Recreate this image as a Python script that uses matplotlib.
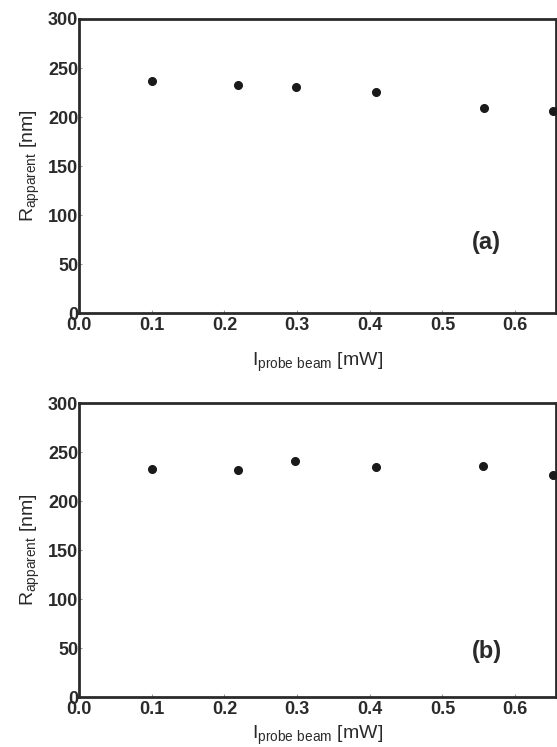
import matplotlib
matplotlib.use("Agg")
import matplotlib.pyplot as plt

plt.rcParams['font.family'] = ['Liberation Sans', 'DejaVu Sans']
plt.rcParams['mathtext.default'] = 'regular'

# Data
x_a = [0.100, 0.219, 0.299, 0.409, 0.557, 0.652]
r_a = [236.5, 232.5, 230.5, 226.0, 209.0, 206.0]
x_b = [0.100, 0.219, 0.297, 0.408, 0.556, 0.652]
r_b = [233.0, 232.0, 241.0, 234.5, 236.0, 226.5]
panel_labels = ['(a)', '(b)']
x_ticks = [0.0, 0.1, 0.2, 0.3, 0.4, 0.5, 0.6]
y_ticks = [0, 50, 100, 150, 200, 250, 300]

fig = plt.figure(figsize=(5.57, 7.47), dpi=100)
ax1 = fig.add_axes([0.1418, 0.5806, 0.8562, 0.3940])
ax2 = fig.add_axes([0.1418, 0.0669, 0.8562, 0.3936])

for ax, xs, ys, lab, ly in [(ax1, x_a, r_a, panel_labels[0], 0.24),
                            (ax2, x_b, r_b, panel_labels[1], 0.155)]:
    ax.plot(xs, ys, 'o', color='#1a1a1a', markersize=5.5, clip_on=False, zorder=5)
    ax.set_xlim(0, 0.656)
    ax.set_ylim(0, 300)
    ax.set_xticks(x_ticks)
    ax.set_yticks(y_ticks)
    ax.set_xticklabels(['%.1f' % v for v in x_ticks])
    ax.set_yticklabels([str(v) for v in y_ticks])
    ax.tick_params(direction='in', length=2.5, width=0.8, colors='#999999',
                   labelcolor='#2a2a2a', labelsize=13)
    ax.tick_params(axis='x', pad=3)
    ax.tick_params(axis='y', pad=0.5)
    for t in ax.get_xticklabels() + ax.get_yticklabels():
        t.set_fontweight('bold')
    for s in ax.spines.values():
        s.set_linewidth(2.0)
        s.set_color('#2a2a2a')
    ax.set_ylabel(r'$R_{apparent}$ [nm]', fontsize=14, color='#2a2a2a', labelpad=4)
    ax.set_xlabel(r'$I_{probe\ beam}$ [mW]', fontsize=14, color='#2a2a2a', labelpad=12)
    ax.text(0.855, ly, lab, transform=ax.transAxes, fontsize=17, fontweight='bold',
            color='#2a2a2a', ha='center', va='center')

ax2.xaxis.labelpad = 4

fig.savefig('out.png', dpi=100, facecolor='white')
